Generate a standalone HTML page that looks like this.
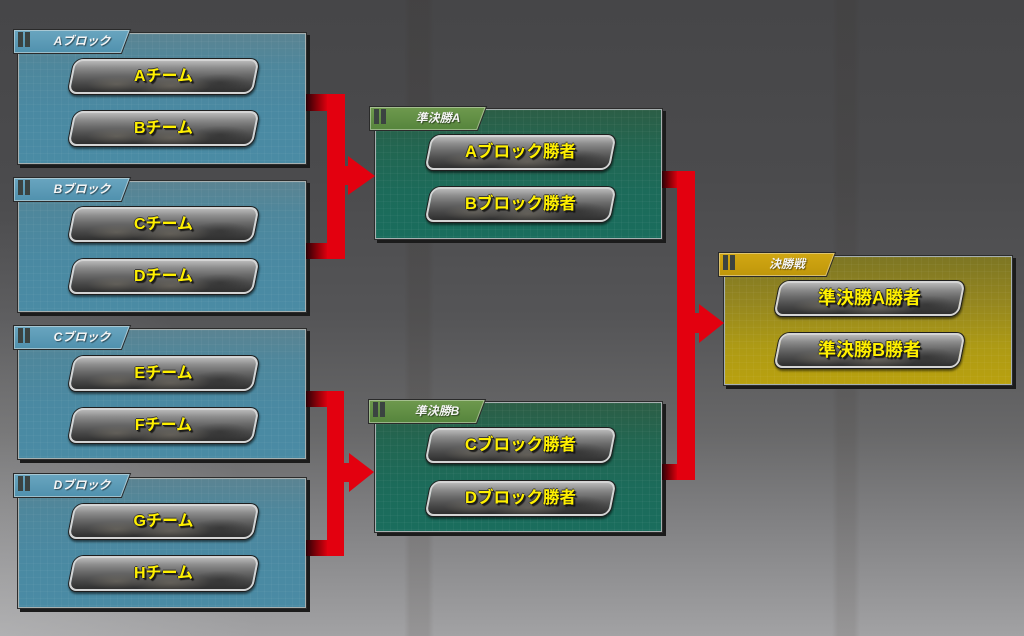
<!DOCTYPE html>
<html>
<head>
<meta charset="utf-8">
<style>
html,body{margin:0;padding:0;}
body{width:1024px;height:636px;overflow:hidden;position:relative;
font-family:"Liberation Sans","Noto Sans CJK JP",sans-serif;
background:
 linear-gradient(to right, rgba(0,0,0,0) 404px, rgba(45,35,25,0.10) 410px, rgba(45,35,25,0.10) 428px, rgba(0,0,0,0) 434px),
 linear-gradient(to right, rgba(0,0,0,0) 832px, rgba(45,35,25,0.09) 838px, rgba(45,35,25,0.09) 854px, rgba(0,0,0,0) 860px),
 radial-gradient(ellipse 260px 420px at 0% 100%, rgba(210,210,210,0.30), rgba(210,210,210,0) 100%),
 linear-gradient(to bottom,#464648 0%,#4b4b4d 28%,#555557 50%,#686869 68%,#818183 82%,#959597 93%,#a2a2a4 100%);
}
.panel{position:absolute;box-sizing:border-box;border:1px solid #a7b0b0;
box-shadow:0 0 0 1px #2c2c2c, 3px 3px 0 1px #1b1b1b;}
.panel::after{content:"";position:absolute;left:0;top:0;right:0;bottom:0;
background-image:repeating-linear-gradient(to right, rgba(255,255,255,0.035) 0 1px, rgba(0,0,0,0) 1px 7px),
repeating-linear-gradient(to bottom, rgba(255,255,255,0.035) 0 1px, rgba(0,0,0,0) 1px 7px);}
.blue{background:linear-gradient(to bottom,#5b8492 0%,#4e879c 25%,#4a89a2 60%,#4a8ba4 100%);}
.green{background:linear-gradient(to bottom,#2c5e46 0%,#226651 30%,#1c6b5a 65%,#1a6d5d 100%);}
.gold{background:linear-gradient(to bottom,#7d7623 0%,#948620 35%,#ad9a15 70%,#b9a10f 100%);}
.tab{position:absolute;width:120px;height:26px;z-index:3;}
.tab svg{position:absolute;left:0;top:0;}
.tab span{position:absolute;left:27px;width:84px;top:5px;text-align:center;color:#f4f4f4;
font-size:12px;font-style:italic;font-weight:bold;line-height:14px;text-shadow:1px 1px 1px rgba(0,0,0,0.5);}
.btn{position:absolute;width:185px;height:35px;box-sizing:border-box;z-index:2;
transform:skewX(-11.3deg);border:2px solid #d4d4d4;border-radius:9px;
box-shadow:0 0 0 1px #1e1e1e, 1px 2px 2px 1px rgba(0,0,0,0.55);
background:
 radial-gradient(ellipse 40px 10px at 55% 80%, rgba(160,150,130,0.35), rgba(0,0,0,0) 100%),
 radial-gradient(ellipse 30px 8px at 25% 75%, rgba(160,150,130,0.3), rgba(0,0,0,0) 100%),
 radial-gradient(ellipse 30px 9px at 82% 70%, rgba(20,20,20,0.35), rgba(0,0,0,0) 100%),
 linear-gradient(to bottom,#b8b8b8 0%,#8c8c8c 22%,#6a6a6a 45%,#4c4c4c 70%,#2e2e2e 100%);}
.btn span{display:block;transform:skewX(11.3deg);text-align:center;line-height:31px;color:#fff000;
font-weight:bold;font-size:16px;white-space:nowrap;
text-shadow:1px 1px 0 #1a1a1a,2px 2px 1px rgba(0,0,0,0.7),-1px 0 0 #3a3a3a,0 -1px 0 #3a3a3a;}
.s span{font-size:16.5px;}
.f span{font-size:18px;}
svg.conn{position:absolute;left:0;top:0;z-index:1;}
</style>
</head>
<body>

<svg class="conn" width="1024" height="636" viewBox="0 0 1024 636">
<defs>
<linearGradient id="g1" gradientUnits="userSpaceOnUse" x1="306" y1="0" x2="328" y2="0">
<stop offset="0" stop-color="#2a0006"/><stop offset="0.5" stop-color="#8a0008"/><stop offset="1" stop-color="#e3000f"/>
</linearGradient>
<linearGradient id="g2" gradientUnits="userSpaceOnUse" x1="662" y1="0" x2="678" y2="0">
<stop offset="0" stop-color="#2a0006"/><stop offset="0.5" stop-color="#8a0008"/><stop offset="1" stop-color="#e3000f"/>
</linearGradient>
</defs>
<rect x="306" y="94" width="39" height="17" fill="url(#g1)"/>
<rect x="306" y="243" width="39" height="16" fill="url(#g1)"/>
<rect x="327" y="94" width="18" height="165" fill="#e3000f"/>
<rect x="344" y="166" width="6" height="19" fill="#e3000f"/>
<polygon points="348,156 375,176 348,195" fill="#e3000f"/>
<rect x="306" y="391" width="38" height="16" fill="url(#g1)"/>
<rect x="306" y="540" width="38" height="16" fill="url(#g1)"/>
<rect x="327" y="391" width="17" height="165" fill="#e3000f"/>
<rect x="343" y="463" width="7" height="19" fill="#e3000f"/>
<polygon points="349,453 374,472 349,492" fill="#e3000f"/>
<rect x="662" y="171" width="33" height="17" fill="url(#g2)"/>
<rect x="662" y="464" width="33" height="16" fill="url(#g2)"/>
<rect x="677" y="171" width="18" height="309" fill="#e3000f"/>
<rect x="694" y="313" width="6" height="20" fill="#e3000f"/>
<polygon points="699,304 724,323 699,343" fill="#e3000f"/>
</svg>

<!-- Block A -->
<div class="panel blue" style="left:18px;top:33px;width:288px;height:131px;"></div>
<div class="tab" style="left:13px;top:29px;">
<svg width="120" height="26"><defs><linearGradient id="tb" x1="0" y1="0" x2="0" y2="1"><stop offset="0" stop-color="#6aa6c0"/><stop offset="1" stop-color="#4f90ad"/></linearGradient></defs>
<polygon points="0.5,0.5 117.5,0.5 108.5,24.5 0.5,24.5" fill="url(#tb)" stroke="#2a2a2a"/>
<polygon points="1.5,1.5 116,1.5 107.7,23.5 1.5,23.5" fill="none" stroke="rgba(220,230,230,0.55)"/>
<rect x="5" y="3" width="5" height="15" fill="#3b4341"/><rect x="12" y="3" width="5" height="15" fill="#3b4341"/></svg>
<span>Aブロック</span></div>
<div class="btn" style="left:71px;top:59px;"><span>Aチーム</span></div>
<div class="btn" style="left:71px;top:111px;"><span>Bチーム</span></div>

<!-- Block B -->
<div class="panel blue" style="left:18px;top:181px;width:288px;height:131px;"></div>
<div class="tab" style="left:13px;top:177px;">
<svg width="120" height="26">
<polygon points="0.5,0.5 117.5,0.5 108.5,24.5 0.5,24.5" fill="url(#tb)" stroke="#2a2a2a"/>
<polygon points="1.5,1.5 116,1.5 107.7,23.5 1.5,23.5" fill="none" stroke="rgba(220,230,230,0.55)"/>
<rect x="5" y="3" width="5" height="15" fill="#3b4341"/><rect x="12" y="3" width="5" height="15" fill="#3b4341"/></svg>
<span>Bブロック</span></div>
<div class="btn" style="left:71px;top:207px;"><span>Cチーム</span></div>
<div class="btn" style="left:71px;top:259px;"><span>Dチーム</span></div>

<!-- Block C -->
<div class="panel blue" style="left:18px;top:329px;width:288px;height:130px;"></div>
<div class="tab" style="left:13px;top:325px;">
<svg width="120" height="26">
<polygon points="0.5,0.5 117.5,0.5 108.5,24.5 0.5,24.5" fill="url(#tb)" stroke="#2a2a2a"/>
<polygon points="1.5,1.5 116,1.5 107.7,23.5 1.5,23.5" fill="none" stroke="rgba(220,230,230,0.55)"/>
<rect x="5" y="3" width="5" height="15" fill="#3b4341"/><rect x="12" y="3" width="5" height="15" fill="#3b4341"/></svg>
<span>Cブロック</span></div>
<div class="btn" style="left:71px;top:356px;"><span>Eチーム</span></div>
<div class="btn" style="left:71px;top:408px;"><span>Fチーム</span></div>

<!-- Block D -->
<div class="panel blue" style="left:18px;top:478px;width:288px;height:130px;"></div>
<div class="tab" style="left:13px;top:473px;">
<svg width="120" height="26">
<polygon points="0.5,0.5 117.5,0.5 108.5,24.5 0.5,24.5" fill="url(#tb)" stroke="#2a2a2a"/>
<polygon points="1.5,1.5 116,1.5 107.7,23.5 1.5,23.5" fill="none" stroke="rgba(220,230,230,0.55)"/>
<rect x="5" y="3" width="5" height="15" fill="#3b4341"/><rect x="12" y="3" width="5" height="15" fill="#3b4341"/></svg>
<span>Dブロック</span></div>
<div class="btn" style="left:71px;top:504px;"><span>Gチーム</span></div>
<div class="btn" style="left:71px;top:556px;"><span>Hチーム</span></div>

<!-- Semi A -->
<div class="panel green" style="left:375px;top:109px;width:287px;height:130px;"></div>
<div class="tab" style="left:369px;top:106px;">
<svg width="120" height="26"><defs><linearGradient id="tg" x1="0" y1="0" x2="0" y2="1"><stop offset="0" stop-color="#6f9a4e"/><stop offset="1" stop-color="#55843c"/></linearGradient></defs>
<polygon points="0.5,0.5 117.5,0.5 108.5,24.5 0.5,24.5" fill="url(#tg)" stroke="#2a2a2a"/>
<polygon points="1.5,1.5 116,1.5 107.7,23.5 1.5,23.5" fill="none" stroke="rgba(220,230,210,0.5)"/>
<rect x="5" y="3" width="5" height="15" fill="#3b4341"/><rect x="12" y="3" width="5" height="15" fill="#3b4341"/></svg>
<span>準決勝A</span></div>
<div class="btn s" style="left:428px;top:135px;"><span>Aブロック勝者</span></div>
<div class="btn s" style="left:428px;top:187px;"><span>Bブロック勝者</span></div>

<!-- Semi B -->
<div class="panel green" style="left:375px;top:402px;width:287px;height:130px;"></div>
<div class="tab" style="left:368px;top:399px;">
<svg width="120" height="26">
<polygon points="0.5,0.5 117.5,0.5 108.5,24.5 0.5,24.5" fill="url(#tg)" stroke="#2a2a2a"/>
<polygon points="1.5,1.5 116,1.5 107.7,23.5 1.5,23.5" fill="none" stroke="rgba(220,230,210,0.5)"/>
<rect x="5" y="3" width="5" height="15" fill="#3b4341"/><rect x="12" y="3" width="5" height="15" fill="#3b4341"/></svg>
<span>準決勝B</span></div>
<div class="btn s" style="left:428px;top:428px;"><span>Cブロック勝者</span></div>
<div class="btn s" style="left:428px;top:481px;"><span>Dブロック勝者</span></div>

<!-- Final -->
<div class="panel gold" style="left:724px;top:256px;width:288px;height:129px;"></div>
<div class="tab" style="left:718px;top:252px;">
<svg width="120" height="26"><defs><linearGradient id="ty" x1="0" y1="0" x2="0" y2="1"><stop offset="0" stop-color="#d2a814"/><stop offset="1" stop-color="#bf960a"/></linearGradient></defs>
<polygon points="0.5,0.5 117.5,0.5 108.5,24.5 0.5,24.5" fill="url(#ty)" stroke="#2a2a2a"/>
<polygon points="1.5,1.5 116,1.5 107.7,23.5 1.5,23.5" fill="none" stroke="rgba(240,230,200,0.5)"/>
<rect x="5" y="3" width="5" height="15" fill="#3b4341"/><rect x="12" y="3" width="5" height="15" fill="#3b4341"/></svg>
<span>決勝戦</span></div>
<div class="btn f" style="left:777px;top:281px;"><span>準決勝A勝者</span></div>
<div class="btn f" style="left:777px;top:333px;"><span>準決勝B勝者</span></div>

</body>
</html>
